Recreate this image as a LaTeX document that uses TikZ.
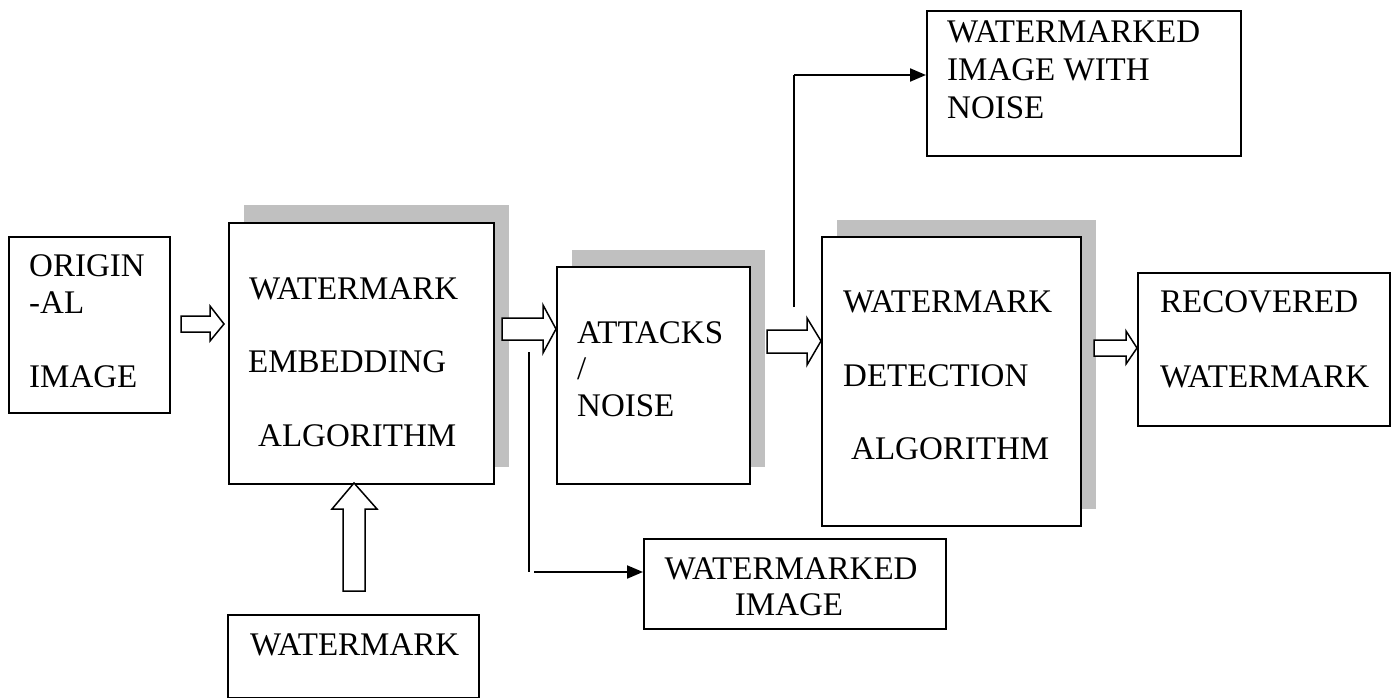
\documentclass[tikz,border=0pt]{standalone}
\usepackage{fontspec}
\setmainfont{Liberation Serif}
\usetikzlibrary{arrows.meta}
\definecolor{shadowgray}{HTML}{C0C0C0}
\begin{document}
\begin{tikzpicture}[x=1pt,y=-1pt,
  box/.style={draw, line width=1.8pt, fill=white, inner sep=0pt, anchor=north west},
  txt/.style={inner sep=0pt, anchor=base west, font=\fontsize{33}{38}\selectfont},
  ctxt/.style={inner sep=0pt, anchor=base, font=\fontsize{33}{38}\selectfont},
  hollow/.style={draw, line width=1.5pt, fill=white, line join=miter},
  thinline/.style={line width=1.3pt},
  arrline/.style={line width=2pt, -{Triangle[length=16pt,width=13pt]}}]
\useasboundingbox (0,0) rectangle (1399,698);
% shadows
\fill[shadowgray] (244,205) rectangle (509,467);
\fill[shadowgray] (572,250) rectangle (765,467);
\fill[shadowgray] (837,220) rectangle (1096,509);
% boxes
\node[box, minimum width=161pt, minimum height=176pt] (orig) at (8,236) {};
\node[box, minimum width=265pt, minimum height=261pt] (emb) at (228,222) {};
\node[box, minimum width=251pt, minimum height=83pt] (wm) at (227,614) {};
\node[box, minimum width=193pt, minimum height=217pt] (att) at (556,266) {};
\node[box, minimum width=302pt, minimum height=90pt] (wmi) at (643,538) {};
\node[box, minimum width=314pt, minimum height=145pt] (wn) at (926,10) {};
\node[box, minimum width=259pt, minimum height=289pt] (det) at (821,236) {};
\node[box, minimum width=252pt, minimum height=153pt] (rec) at (1137,272) {};
% texts
\node[txt] (o1) at (29,276) {ORIGIN};
\node[txt] (o2) at (29,313) {-AL};
\node[txt] (o3) at (29,387) {IMAGE};
\node[txt] (e1) at (249,299) {WATERMARK};
\node[txt] (e2) at (248,372) {EMBEDDING};
\node[txt] (e3) at (258,446) {ALGORITHM};
\node[txt] (w1) at (250,655) {WATERMARK};
\node[txt] (a1) at (577,343) {ATTACKS};
\node[txt] (a2) at (577,379) {/};
\node[txt] (a3) at (577,416) {NOISE};
\node[ctxt] (i1) at (791,579) {WATERMARKED};
\node[ctxt] (i2) at (789,615) {IMAGE};
\node[txt] (n1) at (947,43) {WATERMARKED};
\node[txt] (n2) at (947,81) {IMAGE WITH};
\node[txt] (n3) at (947,119) {NOISE};
\node[txt] (d1) at (843,312) {WATERMARK};
\node[txt] (d2) at (843,386) {DETECTION};
\node[txt] (d3) at (851,459) {ALGORITHM};
\node[txt] (r1) at (1160,312) {RECOVERED};
\node[txt] (r2) at (1160,387) {WATERMARK};
% hollow arrows
\draw[hollow] (181,316) -- (210,316) -- (210,306) -- (224,324) -- (210,341) -- (210,332) -- (181,332) -- cycle;
\draw[hollow] (502,318) -- (543,318) -- (543,305) -- (556,329) -- (543,353) -- (543,340) -- (502,340) -- cycle;
\draw[hollow] (767,330) -- (807,330) -- (807,318) -- (821,341) -- (807,365) -- (807,353) -- (767,353) -- cycle;
\draw[hollow] (1094,340) -- (1126,340) -- (1126,331) -- (1137,348) -- (1126,364) -- (1126,356) -- (1094,356) -- cycle;
\draw[hollow] (354,483) -- (377,509) -- (365,509) -- (365,591) -- (343,591) -- (343,509) -- (332,509) -- cycle;
% output lines
\coordinate (v1top) at (529,352);
\coordinate (v1bot) at (529,572);
\coordinate (h1) at (534,572);
\draw[thinline] (v1top) -- (v1bot);
\draw[arrline] (h1) -- (h1 -| wmi.west);
\coordinate (v2bot) at (794,307);
\coordinate (v2top) at (794,75);
\draw[thinline] (v2bot) -- (v2top);
\draw[arrline] (v2top) -- (v2top -| wn.west);
\end{tikzpicture}
\end{document}
